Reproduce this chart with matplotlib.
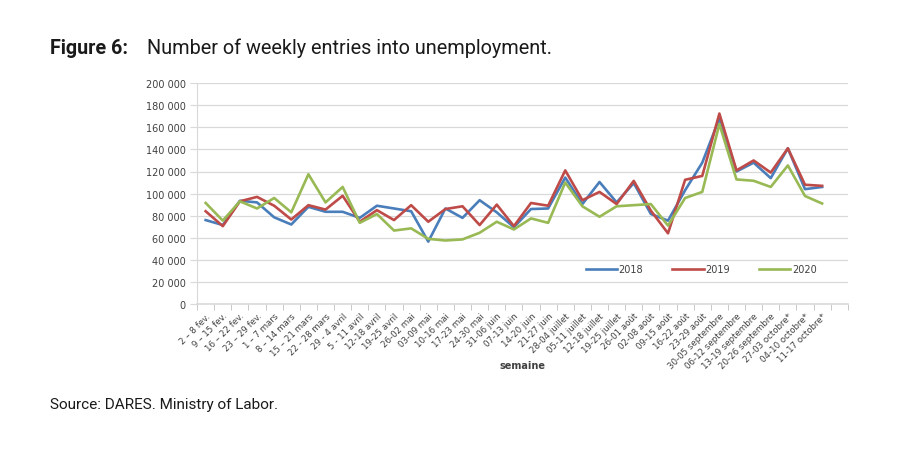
import matplotlib.pyplot as plt
from matplotlib.ticker import FuncFormatter, FixedLocator

# semaines (2020)
weeks = [
    "2 – 8 fev.", "9 – 15 fev.", "16 – 22 fev.", "23 – 29 fev.", "1 – 7 mars",
    "8 – 14 mars", "15 – 21 mars", "22 - 28 mars", "29 - 4 avril", "5 - 11 avril",
    "12-18 avril", "19-25 avril", "26-02 mai", "03-09 mai", "10-16 mai",
    "17-23 mai", "24-30 mai", "31-06 juin", "07-13 juin", "14-20 juin",
    "21-27 juin", "28-04 juillet", "05-11 juillet", "12-18 juillet", "19-25 juillet",
    "26-01 août", "02-08 août", "09-15 août", "16-22 août", "23-29 août",
    "30-05 septembre", "06-12 septembre", "13-19 septembre", "20-26 septembre",
    "27-03 octobre*", "04-10 octobre*", "11-17 octobre*",
]

entries_2018 = [
    76000, 71500, 93500, 92000, 78500, 72000, 88000, 83500, 83500, 78000,
    89000, 86500, 84000, 56500, 86500, 78000, 94000, 83000, 69500, 86000,
    86500, 114500, 90500, 110500, 92000, 109500, 81500, 75500, 103000, 128000,
    168000, 120000, 128000, 114000, 141000, 104000, 106000,
]
entries_2019 = [
    84000, 70500, 93000, 97000, 89000, 76500, 89500, 85500, 98000, 74500,
    85000, 76000, 89500, 74500, 86000, 88500, 71500, 90000, 70500, 91500,
    89000, 121000, 94000, 101500, 90500, 111500, 84500, 64000, 112500, 116000,
    172500, 121000, 130000, 119000, 141000, 108000, 107000,
]
entries_2020 = [
    91500, 75500, 93000, 86500, 96000, 83000, 117500, 92000, 106000, 73500,
    81500, 66500, 68500, 59000, 57500, 58500, 64500, 74500, 67500, 77500,
    73500, 110000, 88500, 79000, 88500, 89500, 90500, 71000, 96000, 101500,
    163000, 112800, 111600, 106000, 125500, 97800, 91000,
]

fig = plt.figure(figsize=(9, 4.6), dpi=100)
ax = fig.add_axes([0.219, 0.337, 0.723, 0.480])

x = range(len(weeks))
ax.plot(x, entries_2018, color="#4A7EBB", lw=1.9, label="2018", zorder=3)
ax.plot(x, entries_2019, color="#BE4B48", lw=1.9, label="2019", zorder=3)
ax.plot(x, entries_2020, color="#98B954", lw=1.9, label="2020", zorder=3)

# axes
ax.set_ylim(0, 200000)
ax.set_xlim(-0.5, len(weeks) + 0.5)
ax.set_yticks(range(0, 200001, 20000))
ax.yaxis.set_major_formatter(FuncFormatter(lambda v, p: f"{int(v):,}".replace(",", " ")))
ax.grid(axis="y", color="#D9D9D9", lw=0.9, zorder=0)
ax.tick_params(axis="y", length=5, color="#D9D9D9", labelsize=7, labelcolor="#404040", pad=3)

ax.set_xticks(list(x))
ax.set_xticklabels(weeks, rotation=45, ha="right", rotation_mode="anchor",
                   fontsize=6.2, color="#404040")
ax.tick_params(axis="x", which="major", length=0, pad=5)
ax.xaxis.set_minor_locator(FixedLocator([i - 0.5 for i in range(len(weeks) + 2)]))
ax.tick_params(axis="x", which="minor", length=4, color="#BFBFBF")

for s in ["top", "right"]:
    ax.spines[s].set_visible(False)
ax.spines["left"].set_color("#D9D9D9")
ax.spines["bottom"].set_color("#D9D9D9")
ax.spines["bottom"].set_linewidth(1.2)

fig.text(522 / 900, 1 - 366 / 460, "semaine", fontsize=7, fontweight="bold",
         color="#404040", ha="center", va="center")

ax.legend(loc="center", bbox_to_anchor=(0.775, 0.158), ncol=3, frameon=False,
          fontsize=7, handlelength=3.2, handletextpad=0.2, columnspacing=3.0,
          labelcolor="#404040")

# titre et source
fig.text(50 / 900, 1 - 48 / 460, "Figure 6:", fontsize=14.2, fontweight="bold",
         family="Roboto", va="center", color="#1a1a1a")
fig.text(147 / 900, 1 - 48 / 460, "Number of weekly entries into unemployment.",
         fontsize=14.3, family="Roboto", va="center", color="#1a1a1a")
fig.text(50 / 900, 1 - 405 / 460, "Source: DARES. Ministry of Labor.",
         fontsize=11, family="Roboto", va="center", color="#1a1a1a")

plt.savefig("out.png", dpi=100)
plt.close()
